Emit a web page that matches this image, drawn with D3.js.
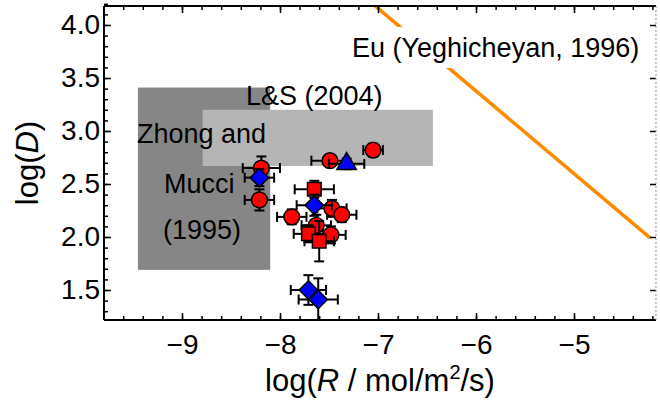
<!DOCTYPE html>
<html>
<head>
<meta charset="utf-8">
<script src="https://cdn.jsdelivr.net/npm/d3@7"></script>
<style>
body { margin: 0; background: #fff; }
text { font-family: "Liberation Sans", Arial, sans-serif; fill: #000; }
</style>
</head>
<body>
<div id="chart"></div>
<script>
// tick values
var xTicks = [-9, -8, -7, -6, -5];
var yTicks = [1.5, 2.0, 2.5, 3.0, 3.5, 4.0];

// points: [logR, logD, errR, errD]
var redCircles = [
    [-8.19, 2.65, 0.19, 0.11],
    [-8.21, 2.35, 0.15, 0.10],
    [-7.49, 2.72, 0.19, 0.05],
    [-7.05, 2.82, 0.10, 0.06],
    [-7.88, 2.19, 0.15, 0.07],
    [-7.47, 2.27, 0.15, 0.08],
    [-7.37, 2.21, 0.15, 0.07],
    [-7.63, 2.11, 0.15, 0.10],
    [-7.48, 2.02, 0.15, 0.08]
];
var redSquares = [
    [-7.65, 2.45, 0.20, 0.08],
    [-7.71, 2.03, 0.15, 0.08],
    [-7.60, 1.96, 0.15, 0.19]
];
var blueDiamonds = [
    [-8.21, 2.56, 0.15, 0.08],
    [-7.65, 2.30, 0.18, 0.10],
    [-7.71, 1.50, 0.18, 0.14],
    [-7.61, 1.41, 0.20, 0.20]
];
var blueTriangles = [
    [-7.32, 2.69, 0.18, 0.05]
];

// literature ranges [xmin, xmax, ymin, ymax]
var zhongBox = [-9.45, -8.10, 1.69, 3.41];
var lsBox = [-8.79, -6.44, 2.67, 3.20];
// Eu line
var euLine = [[-7.10, 4.235], [-4.22, 1.99]];

var W = 660, H = 405;
var pLeft = 104, pRight = 656, pTop = 6, pBottom = 320;

var svg = d3.select("#chart").append("svg")
    .attr("width", W)
    .attr("height", H);

var x = d3.scaleLinear().domain([-9, -5]).range([182, 574]);
var y = d3.scaleLinear().domain([1.5, 4]).range([290, 25]);

svg.append("defs").append("clipPath")
    .attr("id", "plotclip")
    .append("rect")
    .attr("x", pLeft).attr("y", pTop)
    .attr("width", pRight - pLeft).attr("height", pBottom - pTop);

var plot = svg.append("g").attr("clip-path", "url(#plotclip)");

function box(b, col) {
    plot.append("rect")
        .attr("x", x(b[0]))
        .attr("y", y(b[3]))
        .attr("width", x(b[1]) - x(b[0]))
        .attr("height", y(b[2]) - y(b[3]))
        .style("fill", col);
}
box(zhongBox, "#868686");
box(lsBox, "#b5b5b5");

var line = d3.line().x(function(d){ return x(d[0]); }).y(function(d){ return y(d[1]); });
plot.append("path")
    .attr("d", line(euLine))
    .style("fill", "none")
    .style("stroke", "#ff8a00")
    .style("stroke-width", 3.5);

// annotation labels
var labels = svg.append("g");
function label(t, px, py) {
    return labels.append("text").attr("x", px).attr("y", py)
        .style("font-size", "27px").text(t);
}
var eu = label("Eu (Yeghicheyan, 1996)", 352, 57);
var bb = eu.node().getBBox();
labels.insert("rect", "text")
    .attr("x", bb.x - 6).attr("y", 27)
    .attr("width", bb.width + 12).attr("height", 41)
    .style("fill", "#fff");
label("L&S (2004)", 246, 105);
label("Zhong and", 137, 143);
label("Mucci", 164, 193);
label("(1995)", 163, 239);

// error bars + markers
var cap = 5;
var marks = svg.append("g").attr("clip-path", "url(#plotclip)");
function errorbars(data) {
    var g = marks.append("g");
    data.forEach(function(d) {
        var cx = x(d[0]), cy = y(d[1]);
        var x0 = x(d[0] - d[2]), x1 = x(d[0] + d[2]);
        var y0 = y(d[1] - d[3]), y1 = y(d[1] + d[3]);
        var segs = [
            [x0, cy, x1, cy], [x0, cy - cap, x0, cy + cap], [x1, cy - cap, x1, cy + cap],
            [cx, y0, cx, y1], [cx - cap, y0, cx + cap, y0], [cx - cap, y1, cx + cap, y1]
        ];
        g.selectAll(null).data(segs).enter().append("line")
            .attr("x1", function(s){ return s[0]; })
            .attr("y1", function(s){ return s[1]; })
            .attr("x2", function(s){ return s[2]; })
            .attr("y2", function(s){ return s[3]; })
            .style("stroke", "#000")
            .style("stroke-width", 2);
    });
}
function markers(data, type, size, col, rot) {
    marks.append("g").selectAll("path").data(data).enter().append("path")
        .attr("d", d3.symbol().type(type).size(size))
        .attr("transform", function(d) {
            return "translate(" + x(d[0]) + "," + y(d[1]) + ") rotate(" + rot + ")";
        })
        .style("fill", col)
        .style("stroke", "#000")
        .style("stroke-width", 1.5);
}
errorbars(redCircles);
markers(redCircles, d3.symbolCircle, 195, "#ff0000", 0);
errorbars(redSquares);
markers(redSquares, d3.symbolSquare, 185, "#ff0000", 0);
errorbars(blueDiamonds);
markers(blueDiamonds, d3.symbolSquare, 170, "#0000ff", 45);
errorbars(blueTriangles);
markers(blueTriangles, d3.symbolTriangle, 165, "#0000ff", 0);

// axes
var xMinor = d3.range(-9.8, -4.1, 0.2).map(function(v){ return Math.round(v * 10) / 10; });
var yMinor = d3.range(1.3, 4.2, 0.1).map(function(v){ return Math.round(v * 10) / 10; });

function styleAxis(g) {
    g.selectAll(".tick line").style("stroke", "#000").style("stroke-width", 1.5);
    g.selectAll("text").style("font-size", "28px").style("font-family", "Liberation Sans, Arial, sans-serif");
}

// bottom
var gb = svg.append("g").attr("transform", "translate(0," + pBottom + ")");
gb.append("g").call(d3.axisBottom(x).tickValues(xMinor).tickSize(-4).tickFormat(""));
gb.append("g").call(d3.axisBottom(x).tickValues(xTicks).tickSize(-7).tickPadding(14)
    .tickFormat(d3.format("d")));
gb.selectAll("g").each(function(){ styleAxis(d3.select(this)); });
gb.selectAll(".domain").remove();
gb.append("line").attr("x1", pLeft).attr("x2", pRight).style("stroke", "#000").style("stroke-width", 2);

// top
var gt = svg.append("g").attr("transform", "translate(0," + pTop + ")");
gt.append("g").call(d3.axisTop(x).tickValues(xMinor).tickSize(-4).tickFormat(""));
gt.append("g").call(d3.axisTop(x).tickValues(xTicks).tickSize(-7).tickFormat(""));
gt.selectAll("g").each(function(){ styleAxis(d3.select(this)); });
gt.selectAll(".domain").remove();
gt.append("line").attr("x1", pLeft).attr("x2", pRight).style("stroke", "#000").style("stroke-width", 2);

// left
var gl = svg.append("g").attr("transform", "translate(" + pLeft + ",0)");
gl.append("g").call(d3.axisLeft(y).tickValues(yMinor).tickSize(-4).tickFormat(""));
gl.append("g").call(d3.axisLeft(y).tickValues(yTicks).tickSize(-7).tickPadding(4)
    .tickFormat(d3.format(".1f")));
gl.selectAll("g").each(function(){ styleAxis(d3.select(this)); });
gl.selectAll(".domain").remove();
gl.append("line").attr("y1", pTop).attr("y2", pBottom).style("stroke", "#000").style("stroke-width", 2);

// right (dotted frame)
var gr = svg.append("g").attr("transform", "translate(" + pRight + ",0)");
gr.append("g").call(d3.axisRight(y).tickValues(yTicks).tickSize(-6).tickFormat(""));
gr.selectAll("g").each(function(){ styleAxis(d3.select(this)); });
gr.selectAll(".domain").remove();
gr.append("line").attr("y1", pTop).attr("y2", pBottom)
    .style("stroke", "#999").style("stroke-width", 1.2).style("stroke-dasharray", "2,2");

// axis titles
var yt = svg.append("text")
    .attr("transform", "translate(38,163) rotate(-90)")
    .attr("text-anchor", "middle")
    .style("font-size", "31px");
yt.append("tspan").text("log(");
yt.append("tspan").style("font-style", "italic").text("D");
yt.append("tspan").text(")");

var xt = svg.append("text")
    .attr("x", 380).attr("y", 391)
    .attr("text-anchor", "middle")
    .style("font-size", "31px");
xt.append("tspan").text("log(");
xt.append("tspan").style("font-style", "italic").text("R");
xt.append("tspan").text(" / mol/m");
xt.append("tspan").attr("dy", -12).style("font-size", "20px").text("2");
xt.append("tspan").attr("dy", 12).text("/s)");
</script>
</body>
</html>
